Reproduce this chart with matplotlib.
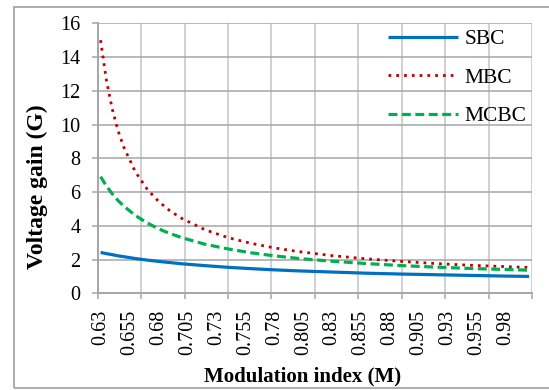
import numpy as np
import matplotlib
matplotlib.use('Agg')
import matplotlib.pyplot as plt
from matplotlib.patches import Rectangle

plt.rcParams['font.family'] = ['Liberation Serif', 'DejaVu Serif']

# modulation index and voltage gain of each boost method
M = [0.63, 0.635, 0.64, 0.645, 0.65, 0.66, 0.67, 0.68, 0.69, 0.70, 0.72,
     0.74, 0.76, 0.78, 0.80, 0.83, 0.86, 0.89, 0.92, 0.95, 0.98, 1.00]
sbc = [2.42, 2.35, 2.29, 2.22, 2.17, 2.06, 1.97, 1.89, 1.82, 1.75, 1.64,
       1.54, 1.46, 1.39, 1.33, 1.26, 1.19, 1.14, 1.10, 1.06, 1.02, 1.00]
mbc = [15.00, 12.63, 10.93, 9.65, 8.66, 7.20, 6.19, 5.45, 4.88, 4.44, 3.77,
       3.30, 2.96, 2.69, 2.48, 2.23, 2.04, 1.89, 1.76, 1.66, 1.58, 1.53]
mcbc = [6.91, 6.36, 5.90, 5.50, 5.17, 4.61, 4.18, 3.82, 3.54, 3.30, 2.91,
        2.63, 2.40, 2.22, 2.07, 1.90, 1.76, 1.64, 1.55, 1.47, 1.41, 1.37]

xlabels = ['0.63', '0.655', '0.68', '0.705', '0.73', '0.755', '0.78', '0.805',
           '0.83', '0.855', '0.88', '0.905', '0.93', '0.955', '0.98']

W, H = 549, 390
fig = plt.figure(figsize=(W/100, H/100), dpi=100)
ax = fig.add_axes([97.7/W, 1-293.3/H, (532-97.7)/W, 270/H])

ax.plot(M, sbc, color='#0070C0', lw=2.3, label='SBC', solid_capstyle='butt')
ax.plot(M, mbc, color='#C00000', lw=2.0, linestyle=(0, (1, 1.8)), label='MBC')
ax.plot(M, mcbc, color='#00B050', lw=2.3, linestyle=(0, (2.8, 1.4)), label='MCBC')

ax.set_xlim(0.6275, 1.0025)
ax.set_ylim(0, 16)

# gridlines/ticks every 7.5 categories, labels every 5 categories
ax.set_xticks(0.6275 + 0.0375*np.arange(11))
ax.set_xticks([float(s) for s in xlabels], minor=True)
ax.set_xticklabels([], minor=False)
ax.set_xticklabels(xlabels, minor=True, rotation=90, fontsize=14.5)
ax.tick_params(axis='x', which='major', length=4.5, width=1.1, color='#a6a6a6', direction='out')
ax.tick_params(axis='x', which='minor', length=0, pad=12)
ax.set_yticks(np.arange(0, 17, 2))
ax.tick_params(axis='y', length=4.5, width=1.1, color='#a6a6a6', pad=8, labelsize=14.5)

ax.grid(axis='y', color='#a6a6a6', lw=1.1)
ax.grid(axis='x', which='major', color='#c4c4c4', lw=1.1)
ax.set_axisbelow(True)
for s in ['top', 'right']:
    ax.spines[s].set_visible(False)
for s in ['left', 'bottom']:
    ax.spines[s].set_color('#a6a6a6')
    ax.spines[s].set_linewidth(1.4)

fig.text(303/W, 1-376/H, 'Modulation index (M)', fontsize=15, fontweight='bold',
         ha='center', va='center')
fig.text(37/W, 1-187/H, 'Voltage gain (G)', fontsize=17, fontweight='bold',
         ha='center', va='center', rotation=90)

ax.legend(loc='upper left', bbox_to_anchor=(388/W, 1-29/H), bbox_transform=fig.transFigure,
          frameon=False, fontsize=15.5, handlelength=3.25, handletextpad=0.3,
          labelspacing=0.86, borderpad=0, borderaxespad=0)

fig.patches.append(Rectangle((14/W, 1-388/H), 1.0, (388-7)/H, transform=fig.transFigure,
                             fill=False, edgecolor='#a0a0a0', lw=1.2))

fig.savefig('out.png', dpi=100)
